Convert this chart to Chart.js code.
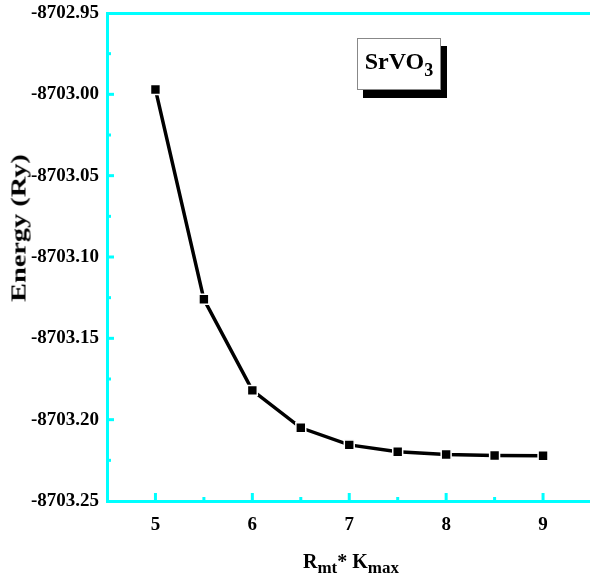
<!DOCTYPE html>
<html>
<head>
<meta charset="utf-8">
<script src="https://cdn.jsdelivr.net/npm/chart.js@4"></script>
<style>
  html, body { margin: 0; padding: 0; background: #fff; overflow: hidden; }
  #wrap { position: relative; width: 600px; height: 587px; }
  canvas { position: absolute; left: 0; top: 0; }
  .serif { font-family: 'Liberation Serif', 'Times New Roman', serif; font-weight: bold; color: #000; }
  #legendBox { position: absolute; left: 357px; top: 38px; width: 82px; height: 50px;
    border: 1px solid #888; background: #fff; box-shadow: 6px 8px 0 #000;
    font-size: 24px; line-height: 44px; text-align: center; }
  #legendBox sub { font-size: 18px; vertical-align: -7px; line-height: 0; }
  #yTitle { position: absolute; left: 19px; top: 228px; font-size: 21px; white-space: nowrap;
    transform: translate(-50%, -50%) rotate(-90deg) scaleX(1.35); }
  #xTitle { position: absolute; left: 351px; top: 561px; font-size: 20px; white-space: nowrap;
    transform: translate(-50%, -50%); }
  #xTitle sub { font-size: 17px; vertical-align: -5px; line-height: 0; }
</style>
</head>
<body>
<div id="wrap">
  <canvas id="c" width="600" height="587"></canvas>
  <div id="legendBox" class="serif">SrVO<sub>3</sub></div>
  <div id="yTitle" class="serif">Energy (Ry)</div>
  <div id="xTitle" class="serif">R<sub>mt</sub>* K<sub>max</sub></div>
</div>
<script>
const rkmax = [5, 5.5, 6, 6.5, 7, 7.5, 8, 8.5, 9];
const energy = [-8702.997, -8703.126, -8703.182, -8703.205, -8703.2155, -8703.2197, -8703.2214, -8703.2220, -8703.2222];
const xTickValues = [5, 6, 7, 8, 9];
const yTickValues = [-8703.25, -8703.20, -8703.15, -8703.10, -8703.05, -8703.00, -8702.95];

const CYAN = '#00FFFF';
const FONT = "'Liberation Serif', 'Times New Roman', serif";

const innerTicks = {
  id: 'innerTicks',
  afterDraw(chart) {
    const { ctx, chartArea: a, scales: { x, y } } = chart;
    ctx.save();
    ctx.strokeStyle = CYAN;
    ctx.lineWidth = 3;
    const seg = (x1, y1, x2, y2) => { ctx.beginPath(); ctx.moveTo(x1, y1); ctx.lineTo(x2, y2); ctx.stroke(); };
    for (let i = 0; i < yTickValues.length; i++) {
      const py = y.getPixelForValue(yTickValues[i]);
      if (i > 0 && i < yTickValues.length - 1) seg(a.left, py, a.left + 7, py);
      if (i < yTickValues.length - 1) {
        const pm = y.getPixelForValue((yTickValues[i] + yTickValues[i + 1]) / 2);
        seg(a.left, pm, a.left + 4, pm);
      }
    }
    for (let i = 0; i < xTickValues.length; i++) {
      const px = x.getPixelForValue(xTickValues[i]);
      seg(px, a.bottom, px, a.bottom - 8);
      if (i < xTickValues.length - 1) {
        const pm = x.getPixelForValue((xTickValues[i] + xTickValues[i + 1]) / 2);
        seg(pm, a.bottom, pm, a.bottom - 4);
      }
    }
    ctx.restore();
  }
};

new Chart(document.getElementById('c'), {
  type: 'scatter',
  data: {
    datasets: [{
      data: rkmax.map((v, i) => ({ x: v, y: energy[i] })),
      showLine: true,
      borderColor: '#000',
      borderWidth: 3.5,
      tension: 0,
      pointStyle: 'rect',
      pointRadius: 7,
      pointBackgroundColor: '#000',
      pointBorderColor: '#fff',
      pointBorderWidth: 1.5,
      clip: false
    }]
  },
  options: {
    responsive: false,
    animation: false,
    layout: { padding: { left: 0, right: 4, top: 0, bottom: 0 } },
    plugins: { legend: { display: false }, tooltip: { enabled: false } },
    scales: {
      x: {
        type: 'linear', position: 'bottom', min: 4.5, max: 9.5,
        afterFit: s => { s.height = 86; s.paddingLeft = 0; s.paddingRight = 0; },
        afterBuildTicks: s => { s.ticks = xTickValues.map(v => ({ value: v })); },
        grid: { display: false, drawTicks: false },
        border: { display: true, color: CYAN, width: 3 },
        ticks: { color: '#000', padding: 13, font: { family: FONT, size: 19, weight: 'bold' }, callback: v => String(v) }
      },
      x2: {
        type: 'linear', position: 'top', min: 4.5, max: 9.5,
        afterFit: s => { s.height = 13; s.paddingLeft = 0; s.paddingRight = 0; },
        grid: { display: false, drawTicks: false },
        border: { display: true, color: CYAN, width: 3 },
        ticks: { display: false }
      },
      y: {
        type: 'linear', position: 'left', min: -8703.25, max: -8702.95,
        afterFit: s => { s.width = 107; s.paddingTop = 0; s.paddingBottom = 0; },
        afterBuildTicks: s => { s.ticks = yTickValues.map(v => ({ value: v })); },
        grid: { display: false, drawTicks: false },
        border: { display: true, color: CYAN, width: 3 },
        ticks: { color: '#000', padding: 8, font: { family: FONT, size: 19, weight: 'bold' }, callback: v => v.toFixed(2) }
      }
    }
  },
  plugins: [innerTicks]
});
</script>
</body>
</html>
